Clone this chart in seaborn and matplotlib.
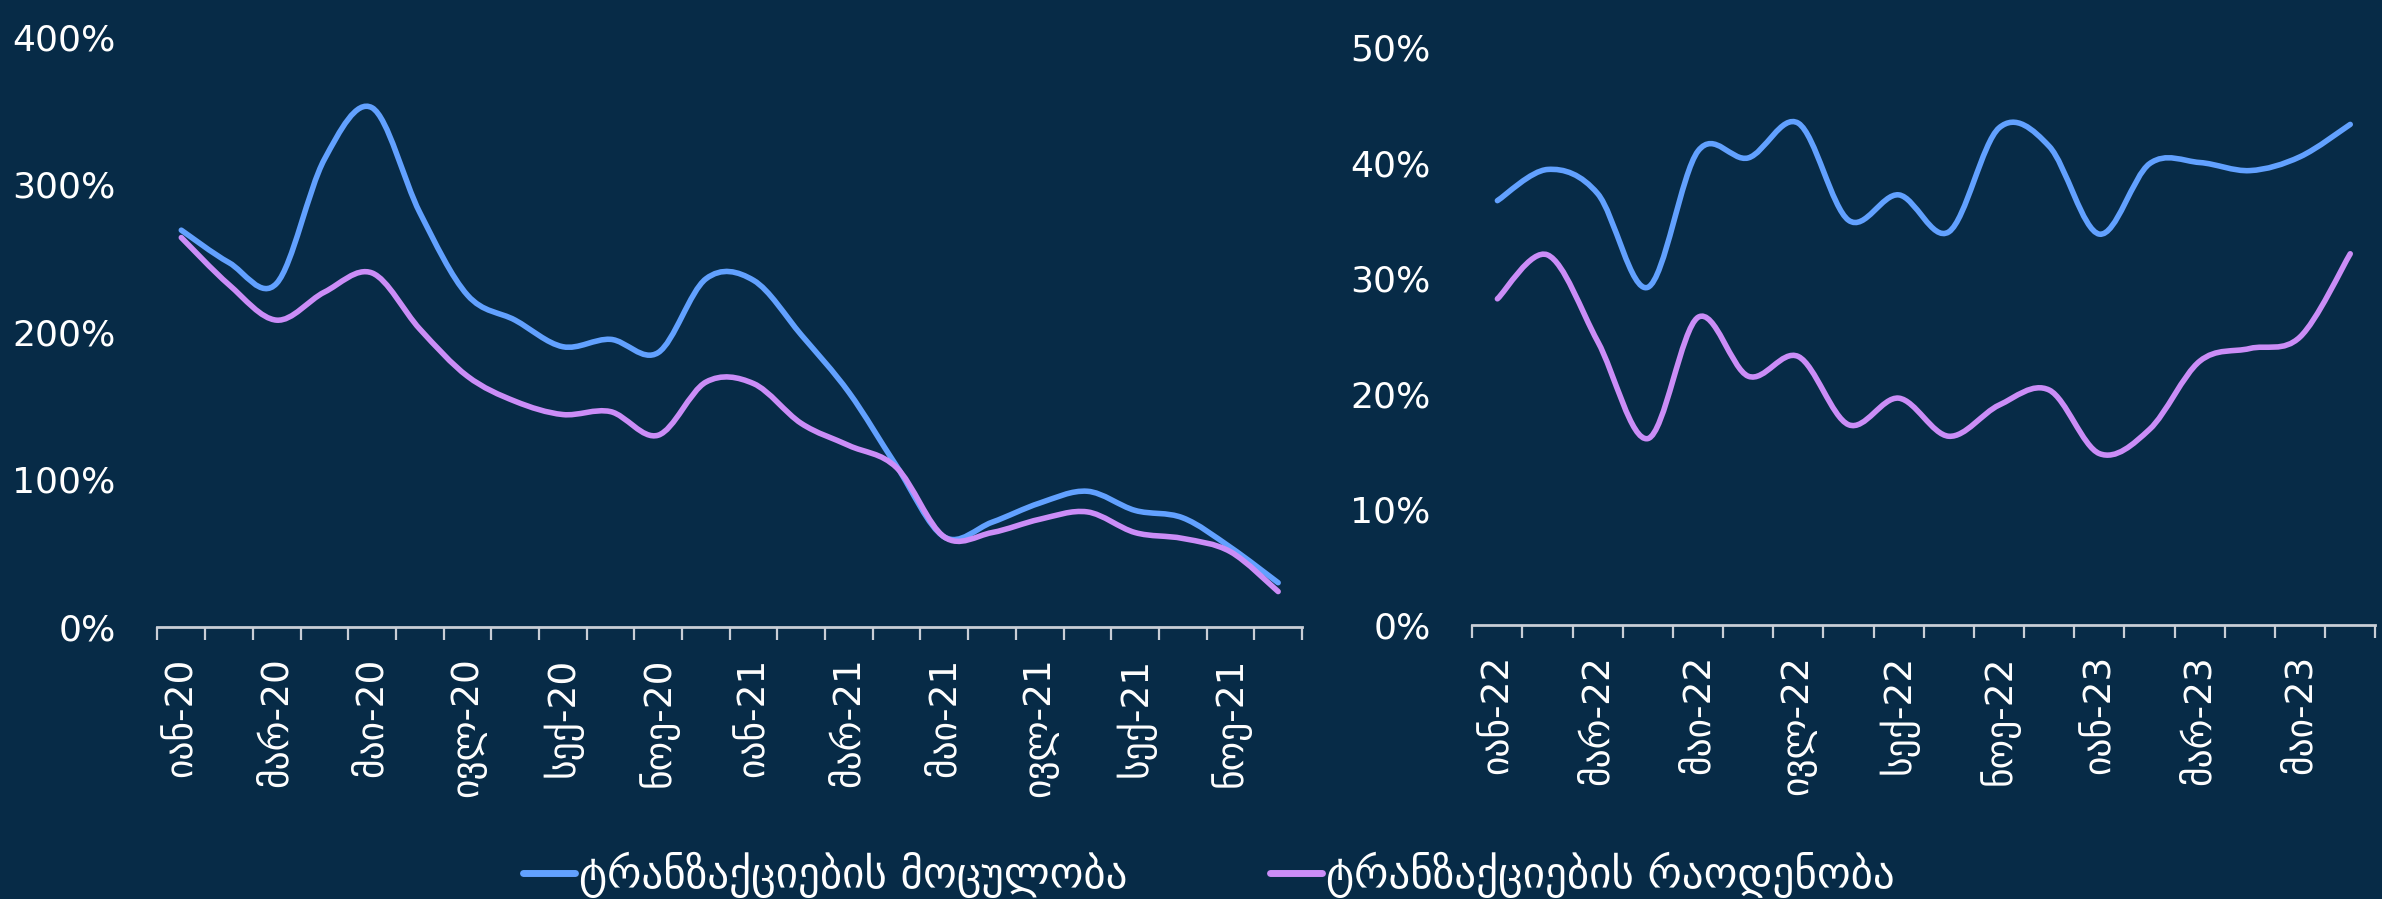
import matplotlib
matplotlib.use('Agg')
import matplotlib.pyplot as plt
from matplotlib.path import Path
from matplotlib.patches import PathPatch
from matplotlib.lines import Line2D
import numpy as np
import seaborn as sns

# data (percent)
months_a = ['იან-20', 'თებ-20', 'მარ-20', 'აპრ-20', 'მაი-20', 'ივნ-20',
            'ივლ-20', 'აგვ-20', 'სექ-20', 'ოქტ-20', 'ნოე-20', 'დეკ-20',
            'იან-21', 'თებ-21', 'მარ-21', 'აპრ-21', 'მაი-21', 'ივნ-21',
            'ივლ-21', 'აგვ-21', 'სექ-21', 'ოქტ-21', 'ნოე-21', 'დეკ-21']
volume_a = [269, 247, 233, 317, 352, 281, 225, 208, 190, 195, 186, 236,
            235, 198, 159, 109, 61, 71, 84, 92, 79, 74, 54, 30]
count_a = [264, 232, 208, 227, 240, 202, 170, 153, 144, 146, 130, 166,
           165, 138, 123, 108, 61, 64, 73, 78, 64, 60, 51, 24]

months_b = ['იან-22', 'თებ-22', 'მარ-22', 'აპრ-22', 'მაი-22', 'ივნ-22',
            'ივლ-22', 'აგვ-22', 'სექ-22', 'ოქტ-22', 'ნოე-22', 'დეკ-22',
            'იან-23', 'თებ-23', 'მარ-23', 'აპრ-23', 'მაი-23', 'ივნ-23']
volume_b = [36.7, 39.4, 37.3, 29.2, 41.0, 40.4, 43.4, 35.0, 37.2, 34.0,
            43.0, 41.4, 33.8, 39.9, 40.0, 39.3, 40.5, 43.3]
count_b = [28.2, 32.0, 24.5, 16.1, 26.6, 21.5, 23.2, 17.3, 19.6, 16.3,
           19.0, 20.3, 14.8, 16.9, 22.8, 23.9, 24.9, 32.1]

yticks_a = [0, 100, 200, 300, 400]
yticks_b = [0, 10, 20, 30, 40, 50]

series_names = ['ტრანზაქციების მოცულობა', 'ტრანზაქციების რაოდენობა']

bg = '#072B47'
colors = sns.color_palette(['#62A1FF', '#CB8DF7'])
axis_col = '#C9CED6'

sns.set_theme(style='white')
plt.rcParams['font.family'] = ['DejaVu Sans']
plt.rcParams['text.color'] = 'white'


def smooth_path(y):
    # Excel-like smoothed line: cubic Bezier through every point
    pts = np.column_stack([np.arange(len(y)), np.asarray(y, float)])
    n = len(pts)
    verts = [pts[0]]
    codes = [Path.MOVETO]
    for i in range(n - 1):
        p0 = pts[max(i - 1, 0)]
        p1 = pts[i]
        p2 = pts[i + 1]
        p3 = pts[min(i + 2, n - 1)]
        verts += [p1 + (p2 - p0) / 6, p2 - (p3 - p1) / 6, p2]
        codes += [Path.CURVE4] * 3
    return Path(verts, codes)


def draw_panel(ax, months, series, yticks):
    n = len(months)
    ax.set_facecolor(bg)
    for vals, col in zip(series, colors):
        ax.add_patch(PathPatch(smooth_path(vals), fill=False, edgecolor=col,
                               lw=4, capstyle='round', joinstyle='round'))
    ax.set_xlim(-0.5, n - 0.5)
    ax.set_ylim(yticks[0], yticks[-1])
    ax.set_xticks(range(0, n, 2))
    ax.set_xticklabels(months[::2], rotation=90, ha='center', va='top')
    ax.set_xticks(np.arange(-0.5, n, 1), minor=True)
    ax.tick_params(axis='x', which='both', bottom=True)
    ax.tick_params(axis='x', which='major', length=0, pad=22,
                   labelsize=27, labelcolor='white')
    ax.tick_params(axis='x', which='minor', length=9.5, width=1.6,
                   color=axis_col, direction='out')
    ax.set_yticks(yticks)
    ax.set_yticklabels([f'{t}%' for t in yticks])
    ax.tick_params(axis='y', length=0, pad=30, labelsize=26,
                   labelcolor='white')
    sns.despine(ax=ax, left=True)
    ax.spines['bottom'].set_color(axis_col)
    ax.spines['bottom'].set_linewidth(2)
    ax.grid(False)


fig = plt.figure(figsize=(23.82, 8.99), dpi=100, facecolor=bg)
ax1 = fig.add_axes([0.0661, 0.3026, 0.4805, 0.6563])
ax2 = fig.add_axes([0.6181, 0.3053, 0.3791, 0.6424])

draw_panel(ax1, months_a, [volume_a, count_a], yticks_a)
draw_panel(ax2, months_b, [volume_b, count_b], yticks_b)

handles = [Line2D([], [], color=c, lw=5, solid_capstyle='round') for c in colors]
fig.legend(handles, series_names, loc='center', bbox_to_anchor=(0.5076, 0.027),
           ncol=2, frameon=False, fontsize=31, handlelength=1.2,
           handletextpad=0.1, columnspacing=3.3, labelcolor='white')

fig.savefig('out.png', dpi=100, facecolor=bg)
